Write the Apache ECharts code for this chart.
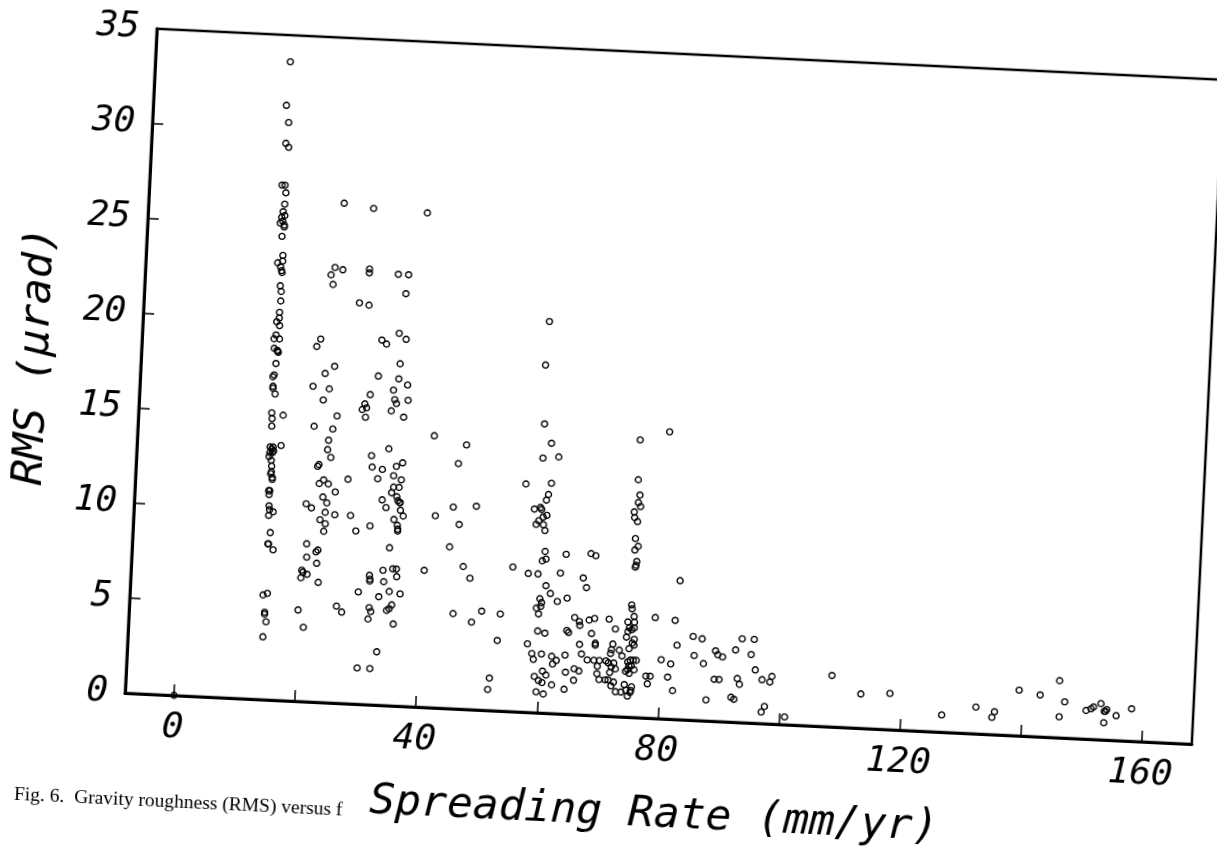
<!DOCTYPE html>
<html>
<head>
<meta charset="utf-8">
<title>Gravity roughness versus spreading rate</title>
<script src="https://cdn.jsdelivr.net/npm/echarts@6/dist/echarts.min.js"></script>
<style>
  html, body { margin: 0; padding: 0; background: #fff; overflow: hidden; }
  /* the printed figure sits slightly tilted on the page */
  #tilt {
    position: absolute; left: 0; top: 0; width: 1217px; height: 852px;
    transform-origin: 125px 693px;
    transform: rotate(2.74deg);
  }
  #chart { width: 1217px; height: 852px; }
</style>
</head>
<body>
<div id="tilt"><div id="chart"></div></div>
<script>
// Axis ticks and labels
const xTickValues = [0, 20, 40, 60, 80, 100, 120, 140, 160];
const xLabelValues = [0, 40, 80, 120, 160];
const xAxisTitle = 'Spreading Rate (mm/yr)';
const yAxisTitle = 'RMS (\u03bcrad)';
const captionText = 'Fig. 6.  Gravity roughness (RMS) versus f';

// [spreading rate (mm/yr), RMS (urad)] grouped by spreading-rate band
const originPoint = [[0, 0]];

const band14 = [
  [14.2,33.6],[13.9,31.3],[14.4,30.4],[14.1,29.3],[14.6,29.1],[13.8,27.1],[14.3,27.1],[14.5,26.7],
  [14.4,26.1],[14.2,25.7],[14.5,25.5],[14.0,25.4],[14.2,25.2],[13.8,25.1],[14.5,25.0],[14.5,24.9],
  [14.2,24.4],[14.5,23.4],[13.7,23.0],[14.5,23.1],[14.2,22.8],[14.4,22.6],[14.5,22.5],[14.3,21.8],
  [14.5,21.5],[14.5,21.0],[14.4,20.4],[14.4,20.1],[14.0,19.9],[14.5,19.7],[14.0,19.2],[13.7,19.0],
  [14.6,19.0],[14.3,18.4],[13.8,18.5],[14.5,18.3],[14.4,18.35],[14.2,17.7],[14.0,17.1],[13.8,17.0],
  [13.9,16.5],[13.9,16.4],[14.3,16.1],[13.9,15.1],[14.0,14.8],[14.0,14.4],[15.8,15.0],[13.9,13.3],
  [14.4,13.3],[14.2,13.2],[13.9,13.0],[14.3,13.0],[14.5,13.1],[15.7,13.4],[13.8,12.8],[14.2,12.6],
  [14.3,12.3],[14.3,12.0],[14.2,11.9],[14.5,11.7],[14.5,11.6],[14.0,11.0],[14.1,10.8],[14.2,11.0],
  [14.2,10.2],[14.3,10.0],[14.9,9.9],[14.2,9.7],[14.6,8.8],[14.3,8.2],[14.4,8.2],[15.2,7.9],
  [13.9,5.5],[14.6,5.6],[14.3,4.6],[14.3,4.5],[14.6,4.1],[14.2,3.3]
];

const band20to29 = [
  [24.2,26.3],[23.2,22.9],[24.5,22.8],[22.6,22.5],[23.0,22.0],[21.4,19.1],[20.8,18.7],[23.9,17.7],
  [22.4,17.3],[20.5,16.6],[23.2,16.5],[22.3,15.9],[24.7,15.1],[21.0,14.5],[24.1,14.4],[23.5,13.8],
  [23.4,13.3],[24.0,12.9],[22.1,12.5],[21.9,12.4],[23.0,11.7],[22.3,11.5],[23.8,11.5],[25.0,11.1],
  [23.0,10.8],[23.7,10.5],[23.5,10.0],[20.3,10.4],[21.2,10.2],[25.1,9.9],[27.7,9.9],[22.7,9.6],
  [23.6,9.4],[23.4,9.0],[28.7,9.1],[20.7,8.3],[22.6,8.0],[22.3,7.9],[20.8,7.6],[22.5,7.3],
  [20.1,6.9],[20.3,6.8],[20.0,6.5],[21.0,6.7],[22.9,6.3],[19.8,4.8],[26.1,5.1],[27.0,4.8],[20.8,3.9]
];

const band29to42 = [
  [29.1,26.1],[38.0,26.0],[28.9,22.9],[28.9,22.7],[33.7,22.7],[35.4,22.7],[35.1,21.7],[27.5,21.1],
  [29.1,21.0],[31.5,19.2],[32.3,19.0],[34.3,19.6],[35.5,19.3],[34.7,18.0],[31.2,17.3],[34.6,17.2],
  [36.1,16.9],[33.8,16.6],[30.0,16.3],[34.1,16.1],[34.4,15.9],[36.3,16.1],[29.2,15.8],[29.5,15.6],
  [28.8,15.5],[33.6,15.5],[29.4,15.1],[35.7,15.2],[40.9,14.3],[33.5,13.5],[30.7,13.1],[35.9,12.8],
  [34.9,12.6],[30.9,12.5],[32.6,12.4],[34.5,12.1],[35.8,11.9],[31.9,11.9],[27.0,11.8],[34.6,11.5],
  [35.5,11.5],[34.3,11.2],[35.2,11.0],[35.4,10.8],[35.7,10.7],[35.8,10.7],[32.8,10.8],[33.5,10.4],
  [35.9,10.3],[36.4,10.0],[34.9,9.8],[31.0,9.4],[35.5,9.5],[35.6,9.3],[35.6,9.2],[41.7,10.1],
  [34.4,8.3],[33.5,7.1],[35.1,7.2],[35.7,7.2],[40.3,7.2],[31.3,6.8],[31.4,6.6],[31.4,6.5],
  [35.8,6.8],[33.7,6.5],[29.6,5.9],[34.7,6.0],[36.5,5.9],[33.0,5.7],[35.2,5.3],[34.8,5.1],
  [34.4,5.0],[31.5,5.1],[31.8,4.9],[31.4,4.5],[35.6,4.3],[33.1,2.8],[30.0,1.9],[32.1,1.9]
];

const band44to56 = [
  [46.3,13.9],[45.1,12.9],[44.6,10.6],[48.4,10.7],[45.7,9.7],[44.3,8.5],[46.7,7.5],[47.9,6.9],
  [54.9,7.6],[45.4,5.0],[50.1,5.2],[53.2,5.1],[48.5,4.6],[52.9,3.7],[51.9,1.7],[51.7,1.1]
];

const band56to74 = [
  [59.0,20.6],[58.7,18.3],[59.0,15.2],[60.3,14.2],[59.0,13.4],[61.6,13.5],[56.4,12.0],[60.6,12.1],
  [60.2,11.5],[59.9,11.2],[58.0,10.7],[59.0,10.8],[59.2,10.7],[60.1,10.4],[59.5,10.3],[58.8,10.1],
  [58.4,9.9],[59.6,9.9],[59.9,9.6],[60.1,8.5],[60.3,8.1],[59.7,8.0],[63.6,8.4],[67.7,8.5],
  [68.5,8.4],[57.5,7.3],[59.1,7.3],[62.8,7.4],[66.6,7.2],[60.5,6.7],[67.2,6.7],[61.3,6.3],
  [62.5,5.9],[64.1,6.1],[59.6,6.0],[59.9,5.8],[59.1,5.5],[59.8,5.6],[59.5,5.2],[65.5,5.1],
  [66.3,4.9],[66.4,4.7],[67.9,5.0],[68.8,5.1],[71.2,5.1],[72.3,4.6],[59.5,4.3],[60.7,4.2],
  [64.3,4.4],[64.6,4.3],[68.4,4.3],[57.9,3.6],[66.5,3.7],[69.1,3.8],[69.1,3.7],[72.0,3.8],
  [71.8,3.5],[71.7,3.3],[73.1,3.5],[73.6,3.2],[58.7,3.1],[59.0,2.8],[60.3,3.1],[62.0,3.0],
  [62.8,2.8],[62.2,2.6],[64.2,3.1],[66.9,3.2],[67.9,2.9],[69.0,2.9],[69.9,2.9],[69.6,2.6],
  [69.6,2.2],[71.0,2.9],[71.4,2.8],[72.3,2.8],[72.6,2.5],[71.9,2.6],[71.7,2.3],[64.4,2.2],
  [65.8,2.4],[66.6,2.3],[59.3,1.9],[60.6,2.2],[61.2,2.0],[60.0,1.7],[60.6,1.6],[62.2,1.5],
  [64.3,1.3],[65.8,1.8],[59.7,1.1],[60.9,1.0],[70.0,1.9],[71.0,1.9],[71.5,1.9],[72.4,1.8],
  [72.0,1.6],[72.8,1.3],[73.7,1.3],[74.2,1.7],[74.5,1.4],[74.8,1.1],[75.3,1.4],[75.4,1.6],[75.2,1.3]
];

const band74to79 = [
  [74.9,14.6],[74.9,12.5],[75.3,11.7],[75.1,11.3],[75.5,11.1],[74.5,10.8],[74.6,10.5],[75.1,10.3],
  [74.9,9.4],[75.4,9.0],[74.9,8.8],[75.3,8.2],[75.2,8.0],[75.1,7.9],[78.8,5.3],[74.8,5.9],
  [74.9,5.7],[75.3,5.3],[75.4,5.0],[74.3,5.0],[74.6,4.7],[75.0,4.6],[75.4,4.7],[74.4,4.5],
  [74.2,4.2],[75.5,4.1],[75.2,3.9],[75.5,3.8],[74.7,3.6],[74.6,2.9],[75.0,3.0],[75.5,3.0],
  [76.0,3.0],[74.8,2.7],[75.2,2.7],[75.7,2.5],[74.9,2.3],[74.3,2.4],[74.6,2.5],[77.7,2.2],
  [78.4,2.2],[78.0,1.8]
];

const band79to160 = [
  [79.7,15.1],[82.6,7.3],[82.1,5.2],[80.1,3.1],[81.7,2.9],[81.3,2.2],[82.2,1.5],[82.6,3.9],
  [85.2,4.4],[86.7,4.3],[85.5,3.4],[87.1,3.0],[89.0,3.7],[89.4,3.5],[90.2,3.4],[92.3,3.8],
  [93.3,4.4],[95.3,4.4],[94.9,3.6],[95.7,2.8],[89.0,2.2],[89.8,2.2],[92.8,2.3],[93.2,2.0],
  [96.9,2.3],[98.5,2.5],[98.2,2.2],[87.8,1.1],[91.9,1.3],[92.4,1.2],[97.5,0.9],[97.0,0.6],
  [100.9,0.4],[108.4,2.7],[113.3,1.8],[118.1,1.9],[126.8,0.9],[132.4,1.4],[135.5,1.2],[135.1,0.9],
  [139.4,2.4],[142.9,2.2],[146.0,3.0],[147.0,1.9],[146.2,1.1],[150.6,1.5],[151.4,1.6],[151.8,1.7],
  [153.0,1.9],[154.0,1.6],[153.6,1.5],[153.8,1.5],[155.6,1.3],[153.6,0.9],[158.1,1.7]
];

const allPoints = [].concat(originPoint, band14, band20to29, band29to42,
  band44to56, band56to74, band74to79, band79to160);

const ink = '#000';
const plotFont = '"DejaVu Sans Mono", "Liberation Mono", monospace';

const chart = echarts.init(document.getElementById('chart'), null, { renderer: 'canvas' });

chart.setOption({
  animation: false,
  backgroundColor: '#fff',
  grid: {
    left: 125, top: 28, width: 1068, height: 665,
    outerBoundsMode: 'none', containLabel: false,
    show: true, borderColor: ink, borderWidth: 2.5, backgroundColor: 'transparent'
  },
  xAxis: {
    type: 'value', min: -8.1, max: 168.3,
    name: xAxisTitle, nameLocation: 'middle', nameGap: 75,
    nameTextStyle: { color: ink, fontFamily: plotFont, fontStyle: 'italic', fontSize: 43 },
    axisLine: { show: true, onZero: false, lineStyle: { color: ink, width: 3 } },
    axisTick: { show: true, inside: true, length: 11, lineStyle: { color: ink, width: 1.5 },
                customValues: xTickValues },
    axisLabel: { show: true, customValues: xLabelValues, margin: 15, color: ink,
                 fontFamily: plotFont, fontStyle: 'italic', fontSize: 36 },
    splitLine: { show: false }
  },
  yAxis: {
    type: 'value', min: 0, max: 35, interval: 5,
    name: yAxisTitle, nameLocation: 'middle', nameGap: 84,
    nameTextStyle: { color: ink, fontFamily: plotFont, fontStyle: 'italic', fontSize: 43 },
    axisLine: { show: true, onZero: false, lineStyle: { color: ink, width: 3 } },
    axisTick: { show: true, inside: true, length: 11, lineStyle: { color: ink, width: 1.5 } },
    axisLabel: { show: true, margin: 17, color: ink,
                 fontFamily: plotFont, fontStyle: 'italic', fontSize: 36 },
    splitLine: { show: false }
  },
  graphic: [{
    type: 'text', left: 19, top: 790, silent: true,
    style: { text: captionText, fill: ink,
             font: '19.5px "Liberation Serif", "DejaVu Serif", serif' }
  }],
  series: [{
    type: 'scatter',
    data: allPoints,
    symbol: 'circle',
    symbolSize: 6,
    itemStyle: { color: 'rgba(255,255,255,0)', borderColor: ink, borderWidth: 1.4, opacity: 1 },
    emphasis: { disabled: true },
    clip: false
  }]
});
</script>
</body>
</html>
